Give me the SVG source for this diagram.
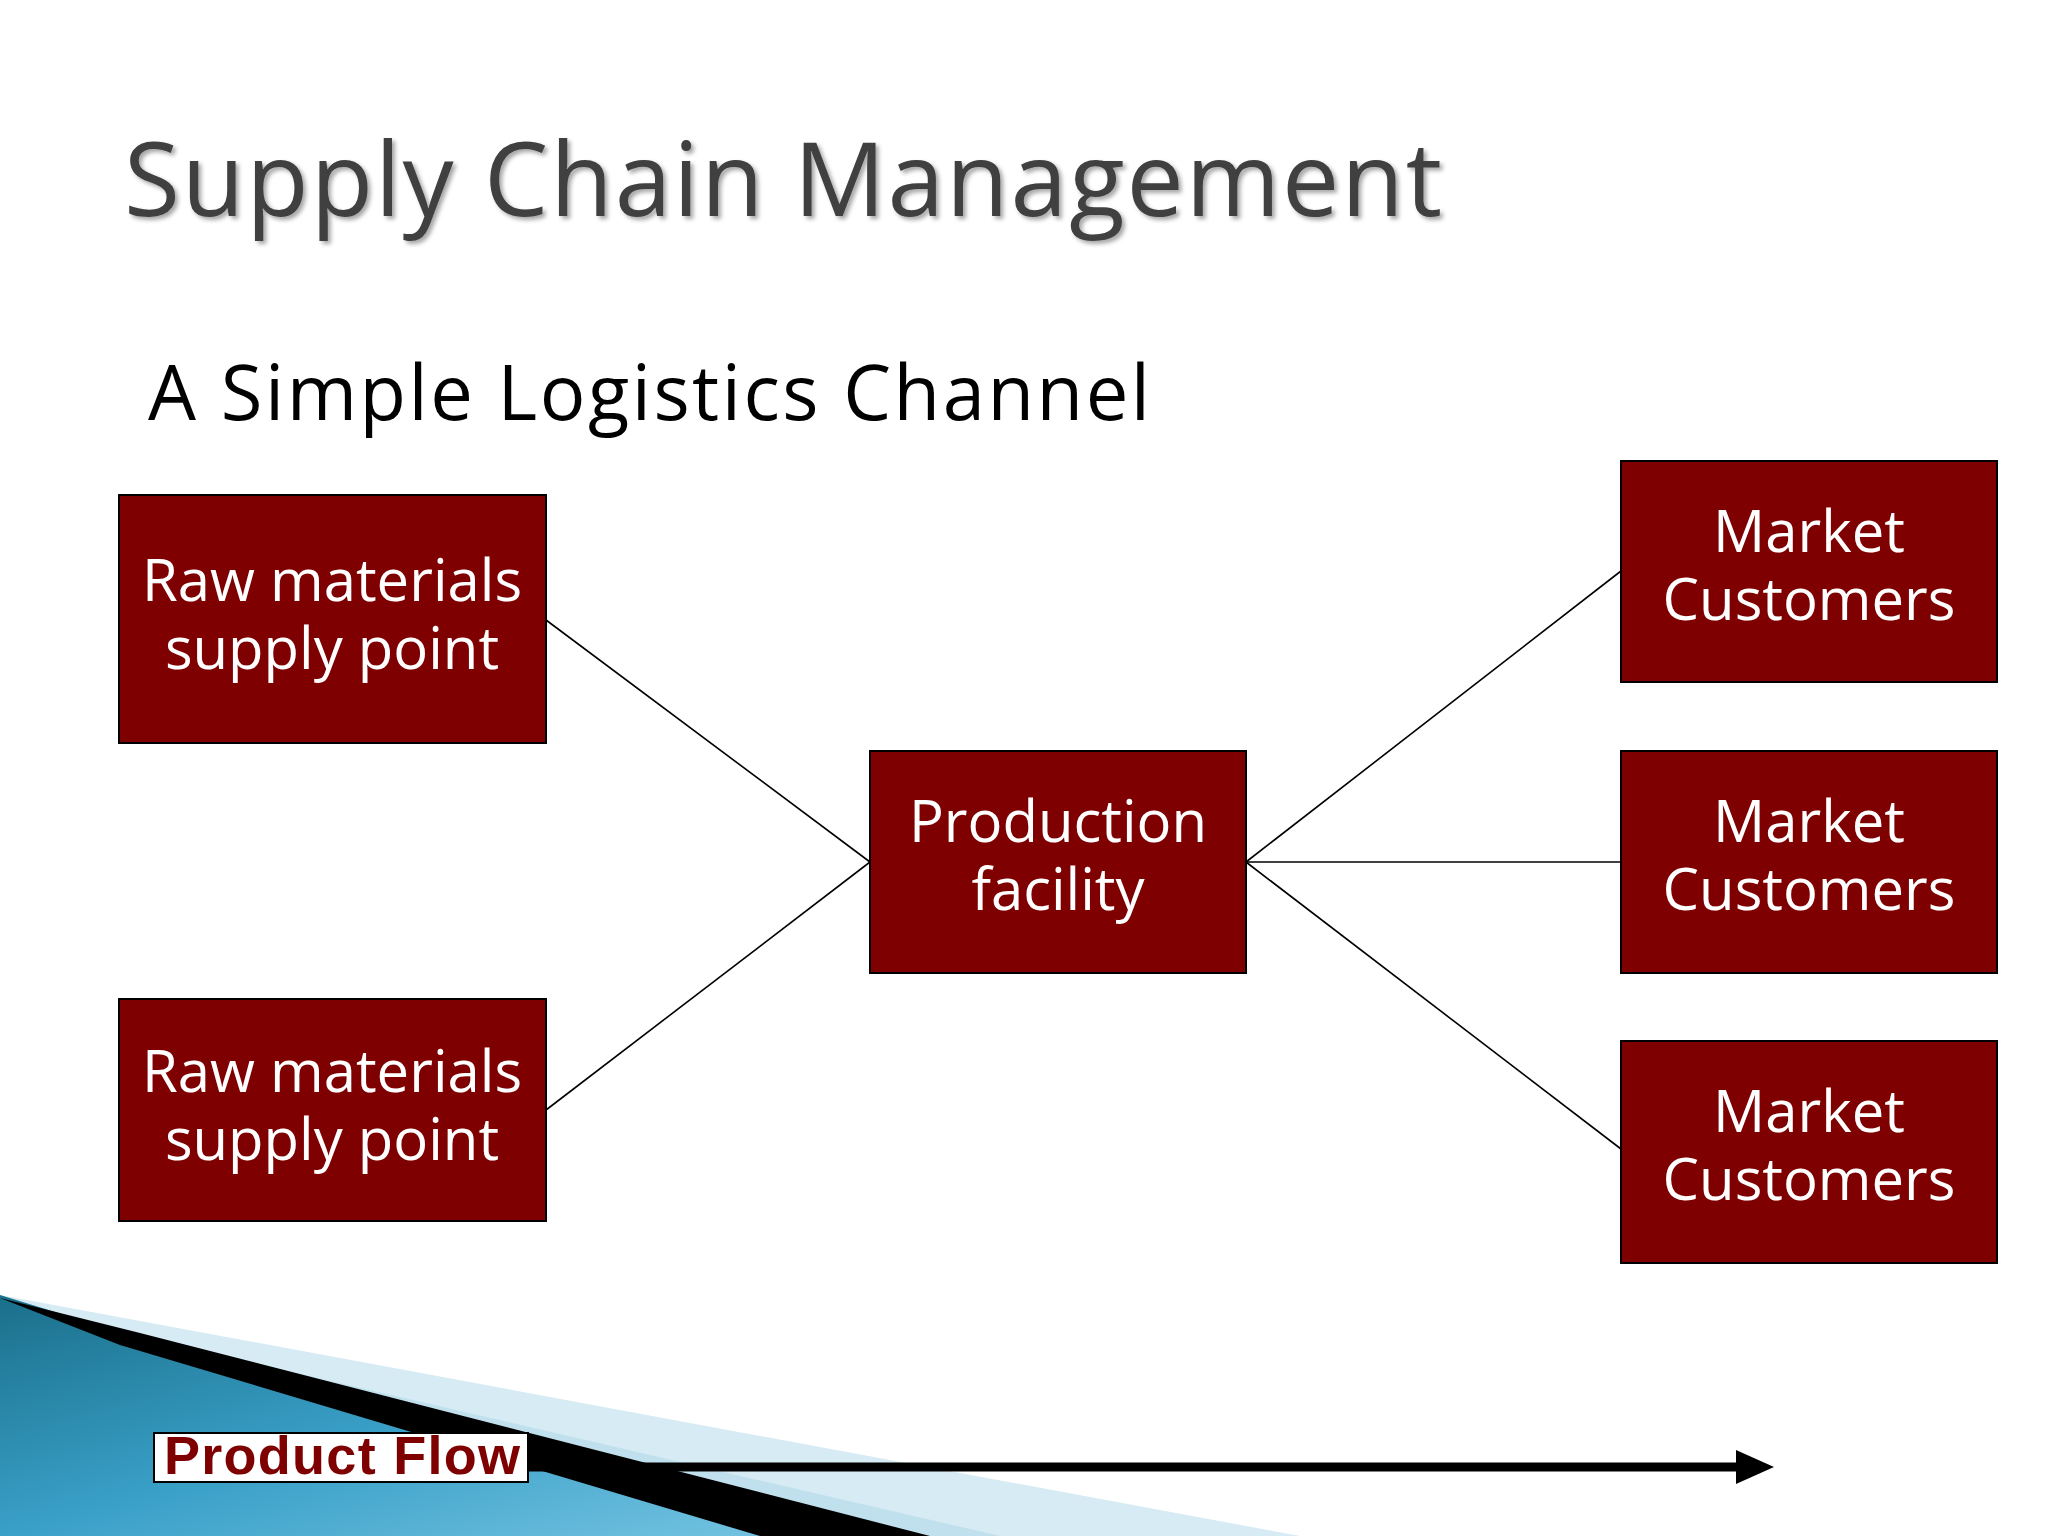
<svg xmlns="http://www.w3.org/2000/svg" width="2048" height="1536" viewBox="0 0 2048 1536">
<defs>
<style>
.box{fill:#7f0000;stroke:#000;stroke-width:2}
.bt{font-family:"Open Sans","DejaVu Sans",sans-serif;font-size:58px;fill:#fff;text-anchor:middle}
.cn{stroke:#000;stroke-width:1.6;fill:none}
</style>
<linearGradient id="sw" x1="0" y1="0" x2="1" y2="1">
<stop offset="0" stop-color="#1a6f8a"/><stop offset="0.5" stop-color="#3aa0c8"/><stop offset="1" stop-color="#7cc8e4"/>
</linearGradient>
<filter id="sh"><feDropShadow dx="3" dy="3" stdDeviation="2" flood-color="#000" flood-opacity="0.35"/></filter>
</defs>
<rect width="2048" height="1536" fill="#fff"/>
<g id="swoosh">
<polygon points="0,1295 1300,1536 0,1536" fill="#d6ebf3"/>
<polygon points="110,1330 1000,1536 780,1536" fill="#bfe0ec"/>
<polygon points="0,1295 130,1335 900,1536 0,1536" fill="url(#sw)"/>
<polygon points="0,1298 140,1333 930,1536 760,1536 120,1345" fill="#000"/>
</g>
<text x="124" y="216" font-family="'Open Sans','DejaVu Sans',sans-serif" font-size="102" fill="#404040" filter="url(#sh)" textLength="1318">Supply Chain Management</text>
<text x="148" y="420" font-family="'Open Sans','DejaVu Sans',sans-serif" font-size="76" fill="#000" textLength="1002">A Simple Logistics Channel</text>
<g id="connectors">
<line class="cn" x1="546" y1="620" x2="870" y2="862"/>
<line class="cn" x1="546" y1="1110" x2="870" y2="862"/>
<line class="cn" x1="1246" y1="862" x2="1621" y2="571"/>
<line class="cn" x1="1246" y1="862" x2="1621" y2="862"/>
<line class="cn" x1="1246" y1="862" x2="1621" y2="1149"/>
</g>
<g id="raw1"><rect class="box" x="119" y="495" width="427" height="248"/><text class="bt"><tspan x="332" y="601">Raw materials</tspan><tspan x="332" y="669">supply point</tspan></text></g>
<g id="raw2"><rect class="box" x="119" y="999" width="427" height="222"/><text class="bt"><tspan x="332" y="1092">Raw materials</tspan><tspan x="332" y="1160">supply point</tspan></text></g>
<g id="prod"><rect class="box" x="870" y="751" width="376" height="222"/><text class="bt"><tspan x="1058" y="842">Production</tspan><tspan x="1058" y="910">facility</tspan></text></g>
<g id="m1"><rect class="box" x="1621" y="461" width="376" height="221"/><text class="bt"><tspan x="1809" y="552">Market</tspan><tspan x="1809" y="620">Customers</tspan></text></g>
<g id="m2"><rect class="box" x="1621" y="751" width="376" height="222"/><text class="bt"><tspan x="1809" y="842">Market</tspan><tspan x="1809" y="910">Customers</tspan></text></g>
<g id="m3"><rect class="box" x="1621" y="1041" width="376" height="222"/><text class="bt"><tspan x="1809" y="1132">Market</tspan><tspan x="1809" y="1200">Customers</tspan></text></g>
<g id="flow">
<line x1="528" y1="1467" x2="1740" y2="1467" stroke="#000" stroke-width="9"/>
<polygon points="1736,1450 1774,1467 1736,1484" fill="#000"/>
<rect x="154" y="1433" width="374" height="49" fill="#fff" stroke="#000" stroke-width="2"/>
<text x="164" y="1474" font-family="'Liberation Sans',Arial,sans-serif" font-weight="bold" font-size="54" fill="#7f0000" textLength="356">Product Flow</text>
</g>
</svg>
